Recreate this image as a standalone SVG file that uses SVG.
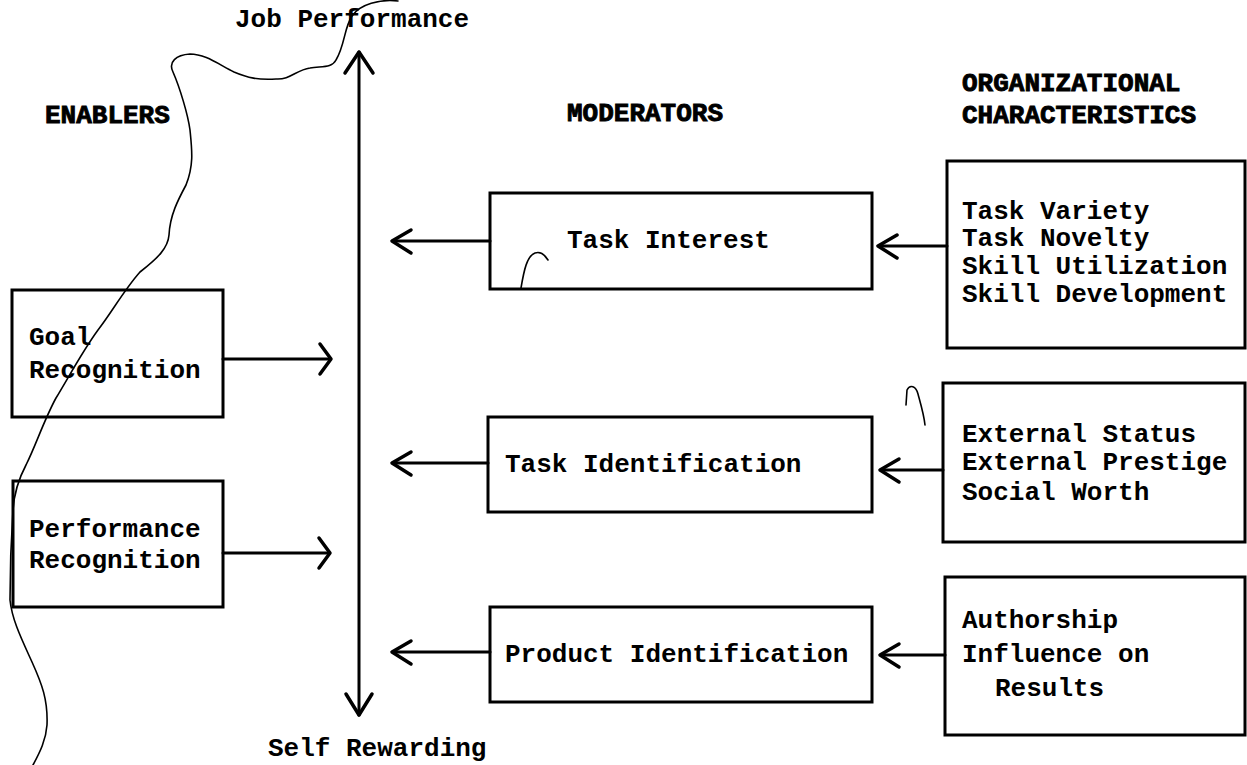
<svg xmlns="http://www.w3.org/2000/svg" width="1247" height="765" viewBox="0 0 1247 765">
  <style>
    .bg { fill: #ffffff; }
    .box { fill: none; stroke: #000; stroke-width: 3; }
    .line { fill: none; stroke: #000; stroke-width: 3; stroke-linecap: round; }
    .head { fill: none; stroke: #000; stroke-width: 3.5; stroke-linecap: round; stroke-linejoin: round; }
    .hair { fill: none; stroke: #000; stroke-width: 1.6; stroke-linecap: round; stroke-linejoin: round; }
    .t { font-family: "Liberation Mono", "DejaVu Sans Mono", monospace; font-size: 26px; font-weight: bold; fill: #000; }
    .h { font-family: "Liberation Mono", "DejaVu Sans Mono", monospace; font-size: 26px; font-weight: bold; fill: #000; stroke: #000; stroke-width: 0.9; }
  </style>

  <rect class="bg" x="0" y="0" width="1247" height="765"/>

  <!-- column headings and axis labels -->
  <g id="labels">
    <text class="t" x="235" y="27">Job Performance</text>
    <text class="t" x="268" y="756">Self Rewarding</text>
    <text class="h" x="45" y="123">ENABLERS</text>
    <text class="h" x="567" y="121">MODERATORS</text>
    <text class="h" x="962" y="91">ORGANIZATIONAL</text>
    <text class="h" x="962" y="123">CHARACTERISTICS</text>
  </g>

  <!-- enablers -->
  <g id="goal-recognition">
    <rect class="box" x="12" y="290" width="211" height="127"/>
    <text class="t" x="29" y="345">Goal</text>
    <text class="t" x="29" y="378">Recognition</text>
  </g>
  <g id="performance-recognition">
    <rect class="box" x="13" y="481" width="210" height="126"/>
    <text class="t" x="29" y="537">Performance</text>
    <text class="t" x="29" y="568">Recognition</text>
  </g>

  <!-- moderators -->
  <g id="task-interest">
    <rect class="box" x="490" y="193" width="382" height="96"/>
    <text class="t" x="567" y="248">Task Interest</text>
  </g>
  <g id="task-identification">
    <rect class="box" x="488" y="417" width="384" height="95"/>
    <text class="t" x="505" y="472">Task Identification</text>
  </g>
  <g id="product-identification">
    <rect class="box" x="490" y="607" width="382" height="95"/>
    <text class="t" x="505" y="662">Product Identification</text>
  </g>

  <!-- organizational characteristics -->
  <g id="task-characteristics">
    <rect class="box" x="947" y="161" width="298" height="187"/>
    <text class="t" x="962" y="219">Task Variety</text>
    <text class="t" x="962" y="246">Task Novelty</text>
    <text class="t" x="962" y="274">Skill Utilization</text>
    <text class="t" x="962" y="302">Skill Development</text>
  </g>
  <g id="external-characteristics">
    <rect class="box" x="943" y="383" width="302" height="159"/>
    <text class="t" x="962" y="442">External Status</text>
    <text class="t" x="962" y="470">External Prestige</text>
    <text class="t" x="962" y="500">Social Worth</text>
  </g>
  <g id="result-characteristics">
    <rect class="box" x="945" y="577" width="300" height="158"/>
    <text class="t" x="962" y="628">Authorship</text>
    <text class="t" x="962" y="662">Influence on</text>
    <text class="t" x="995" y="696">Results</text>
  </g>

  <!-- connectors -->
  <g id="connectors">
    <!-- vertical axis, double headed -->
    <line class="line" x1="359" y1="52" x2="359" y2="715"/>
    <polyline class="head" points="345,73 359,52 373,73"/>
    <polyline class="head" points="346,694 359,715 372,694"/>

    <!-- enablers into the axis -->
    <line class="line" x1="223" y1="359" x2="330" y2="359"/>
    <polyline class="head" points="320,344 331,359 320,374"/>
    <line class="line" x1="223" y1="553" x2="329" y2="553"/>
    <polyline class="head" points="319,538 330,553 319,568"/>

    <!-- moderators into the axis -->
    <line class="line" x1="490" y1="241" x2="393" y2="241"/>
    <polyline class="head" points="411,230 392,241 411,253"/>
    <line class="line" x1="488" y1="463" x2="393" y2="463"/>
    <polyline class="head" points="411,452 392,463 411,475"/>
    <line class="line" x1="490" y1="652" x2="393" y2="652"/>
    <polyline class="head" points="411,641 392,652 411,664"/>

    <!-- characteristics into moderators -->
    <line class="line" x1="947" y1="246" x2="879" y2="246"/>
    <polyline class="head" points="897,235 878,246 897,258"/>
    <line class="line" x1="943" y1="470" x2="881" y2="470"/>
    <polyline class="head" points="899,459 880,470 899,482"/>
    <line class="line" x1="945" y1="655" x2="881" y2="655"/>
    <polyline class="head" points="899,644 880,655 899,667"/>
  </g>

  <!-- stray hair lines on the sheet -->
  <path class="hair" d="M 398 1 C 380 -1 360 4 352 16 C 344 28 345 45 336 60 C 332 68 322 66 310 68 C 296 70 290 80 276 79 C 258 80 248 78 234 72 C 218 64 205 54 190 54 C 176 55 168 62 173 72 C 180 88 188 115 190 130 C 192 150 194 165 186 185 C 178 200 170 215 169 235 C 168 248 158 258 140 272 C 124 290 112 312 98 330 C 82 352 70 375 56 398 C 44 420 36 445 26 465 C 18 480 14 495 13 510 C 11 540 10 570 10 600 C 12 620 22 640 32 662 C 42 684 48 700 47 725 C 46 740 40 752 33 765"/>
  <path class="hair" d="M 521 288 C 524 270 527 256 535 253 C 541 251 545 255 548 260"/>
  <path class="hair" d="M 906 405 L 907 390 C 910 384 916 386 918 394 C 921 405 924 415 925 425"/>
</svg>
